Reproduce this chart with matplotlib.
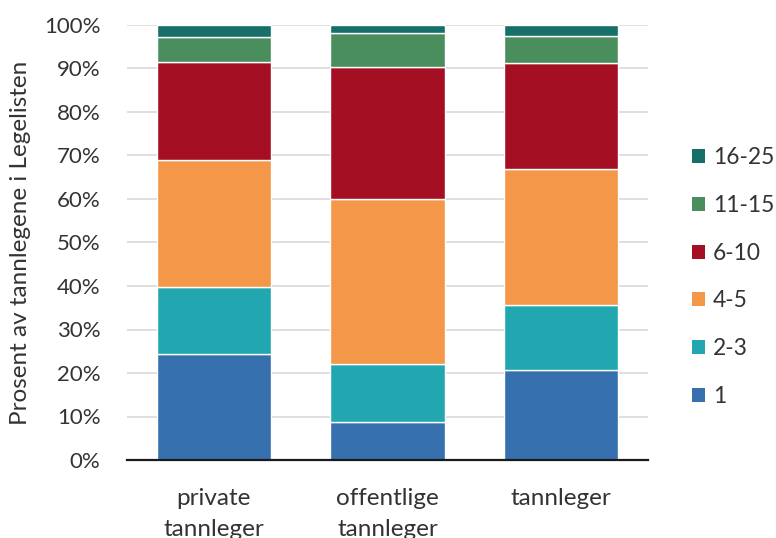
import matplotlib
matplotlib.use("Agg")
import matplotlib.pyplot as plt
from matplotlib.patches import Patch
import numpy as np

plt.rcParams['font.family'] = ['Lato', 'DejaVu Sans']

categories = ["private\ntannleger", "offentlige\ntannleger", "tannleger"]
groups = ["1", "2-3", "4-5", "6-10", "11-15", "16-25"]
colors = ["#3670ae", "#22a6b0", "#f59748", "#a50f23", "#4a8e5e", "#166f69"]

share_1 = [24.3, 8.7, 20.7]
share_2_3 = [15.4, 13.4, 14.9]
share_4_5 = [29.2, 37.9, 31.2]
share_6_10 = [22.7, 30.3, 24.5]
share_11_15 = [5.6, 7.9, 6.1]
share_16_25 = [2.8, 1.8, 2.6]

series = [share_1, share_2_3, share_4_5, share_6_10, share_11_15, share_16_25]

text_color = "#333333"

fig = plt.figure(figsize=(7.76, 5.38), dpi=100)
ax = fig.add_axes([127/776, 1 - 460/538, (648 - 127)/776, (460 - 25)/538])

x = np.arange(len(categories))
bottom = np.zeros(len(categories))
for vals, col, lab in zip(series, colors, groups):
    ax.bar(x, vals, width=0.66, bottom=bottom, color=col, edgecolor="white",
           linewidth=1.0, label=lab, zorder=3)
    bottom += np.array(vals)

ax.set_xlim(-0.5, 2.5)
ax.set_ylim(0, 100)
ax.set_yticks(np.arange(0, 101, 10))
ax.set_yticklabels([f"{v}%" for v in range(0, 101, 10)], fontsize=16)
ax.set_xticks(x)
ax.set_xticklabels(categories, linespacing=1.6, va="top", fontsize=17.5)

ax.grid(axis="y", color="#d9d9d9", linewidth=1.2, zorder=0)
ax.set_axisbelow(True)
for s in ["top", "right", "left"]:
    ax.spines[s].set_visible(False)
ax.spines["bottom"].set_color("#1a1a1a")
ax.spines["bottom"].set_linewidth(1.6)
ax.spines["bottom"].set_zorder(4)

ax.tick_params(axis="both", length=0, colors=text_color)
ax.tick_params(axis="y", pad=19)
ax.tick_params(axis="x", pad=20)

ax.set_ylabel("Prosent av tannlegene i Legelisten", fontsize=17.5, color=text_color)
ax.yaxis.set_label_coords(-96/521, 0.5)

handles = [Patch(facecolor=c, edgecolor="none") for c in colors][::-1]
fig.legend(handles, groups[::-1], loc="center left", bbox_to_anchor=(692/776, 1 - 277/538),
           frameon=False, fontsize=16.4, handlelength=0.57, handleheight=0.57,
           handletextpad=0.35, labelspacing=1.17, borderpad=0, borderaxespad=0,
           labelcolor=text_color)

fig.savefig("out.png", dpi=100)
